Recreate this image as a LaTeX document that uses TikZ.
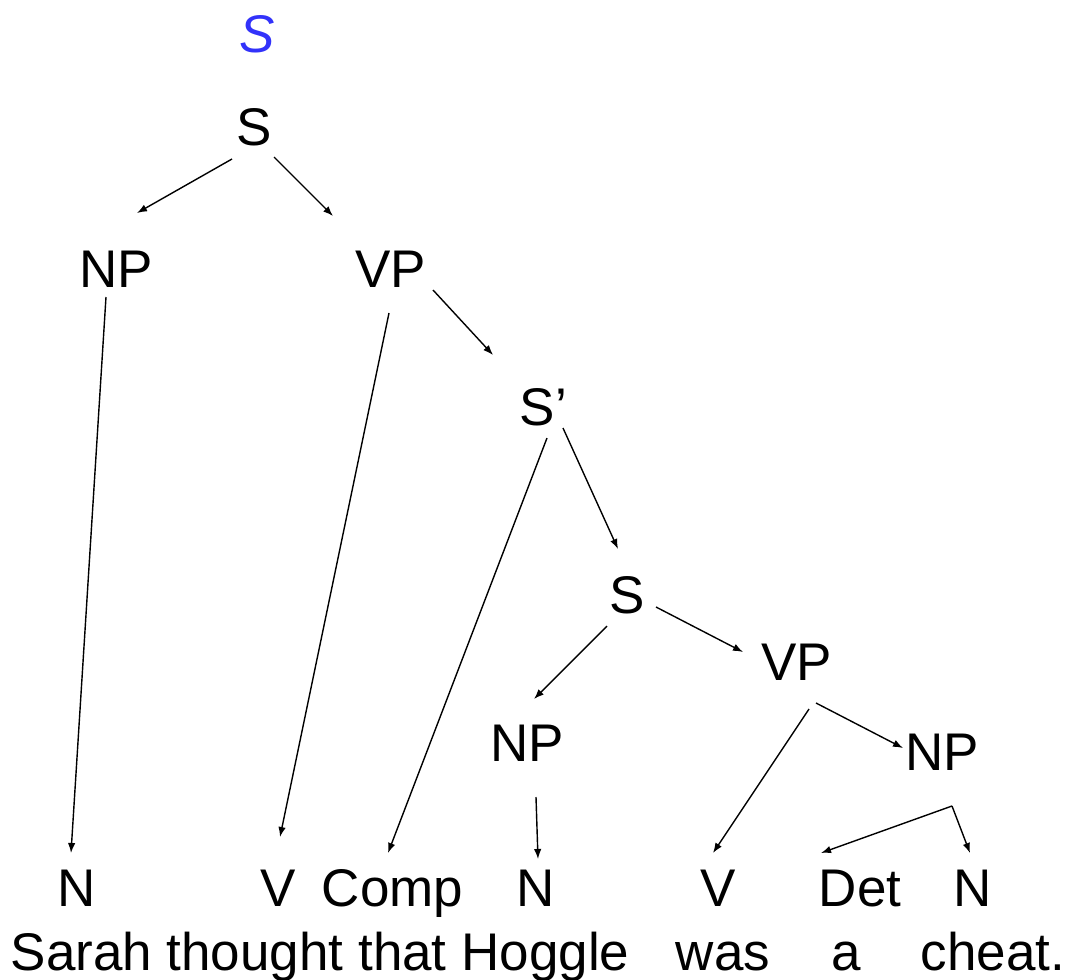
\documentclass[tikz,border=0pt]{standalone}
\usepackage{fontspec}
\setmainfont{Liberation Sans}
\usetikzlibrary{arrows.meta}
\definecolor{sblue}{RGB}{50,50,250}
\begin{document}
\begin{tikzpicture}[x=1pt,y=-1pt,
  lab/.style={font=\fontsize{53}{60}\selectfont, inner sep=0pt, text height=38pt, text depth=0pt},
  edge/.style={line width=1.4pt, -{Latex[length=10pt,width=7.5pt]}}]
\useasboundingbox (0,0) rectangle (1066,980);
% nodes
\node[lab, text=sblue, font=\fontsize{53}{60}\selectfont\itshape] (top) at (257.5,33.5) {S};
\node[lab] (s0) at (254,126) {S};
\node[lab] (np1) at (116,268.5) {NP};
\node[lab] (vp1) at (390.5,268.5) {VP};
\node[lab] (sp) at (543.5,406) {S’};
\node[lab] (s1) at (627.5,594.5) {S};
\node[lab] (vp2) at (796.5,661.5) {VP};
\node[lab] (np2) at (527.5,742.5) {NP};
\node[lab] (np3) at (942,751.5) {NP};
\node[lab] (n1) at (76.5,887) {N};
\node[lab] (v1) at (278.5,887) {V};
\node[lab] (comp) at (392.5,887) {Comp};
\node[lab] (n2) at (536,887) {N};
\node[lab] (v2) at (718,887) {V};
\node[lab] (det) at (860,887) {Det};
\node[lab] (n3) at (973,887) {N};
\node[lab, anchor=west] (w1) at (10.5,951) {Sarah thought that Hoggle};
\node[lab] (w2) at (723,951) {was};
\node[lab] (w3) at (846,951) {a};
\node[lab] (w4) at (993,951) {cheat.};
% edges
\draw[edge] ([shift={(-22,33)}]s0.center) -- ([shift={(21,-55.5)}]np1.center);
\draw[edge] ([shift={(20,31)}]s0.center) -- ([shift={(-57.5,-52.5)}]vp1.center);
\draw[edge] ([shift={(-10,28.5)}]np1.center) -- ([shift={(-5.5,-34)}]n1.center);
\draw[edge] ([shift={(-1.5,44.5)}]vp1.center) -- ([shift={(1.5,-50)}]v1.center);
\draw[edge] ([shift={(42.5,21.5)}]vp1.center) -- ([shift={(-50.5,-51)}]sp.center);
\draw[edge] ([shift={(3.5,32)}]sp.center) -- ([shift={(-4.5,-34)}]comp.center);
\draw[edge] ([shift={(19.5,22)}]sp.center) -- ([shift={(-9.5,-45.5)}]s1.center);
\draw[edge] ([shift={(-20.5,31.5)}]s1.center) -- ([shift={(6.5,-43.5)}]np2.center);
\draw[edge] ([shift={(28.5,12.5)}]s1.center) -- ([shift={(-53.5,-9.5)}]vp2.center);
\draw[edge] ([shift={(12.5,47.5)}]vp2.center) -- ([shift={(-5,-34)}]v2.center);
\draw[edge] ([shift={(19.5,41.5)}]vp2.center) -- ([shift={(-39,-3.5)}]np3.center);
\draw[edge] ([shift={(8.5,54.5)}]np2.center) -- ([shift={(2,-28)}]n2.center);
\coordinate (np3c) at ([shift={(10,54.5)}]np3.center);
\draw[edge] (np3c) -- ([shift={(-39,-34)}]det.center);
\draw[edge] (np3c) -- ([shift={(-3,-34)}]n3.center);
\end{tikzpicture}
\end{document}
